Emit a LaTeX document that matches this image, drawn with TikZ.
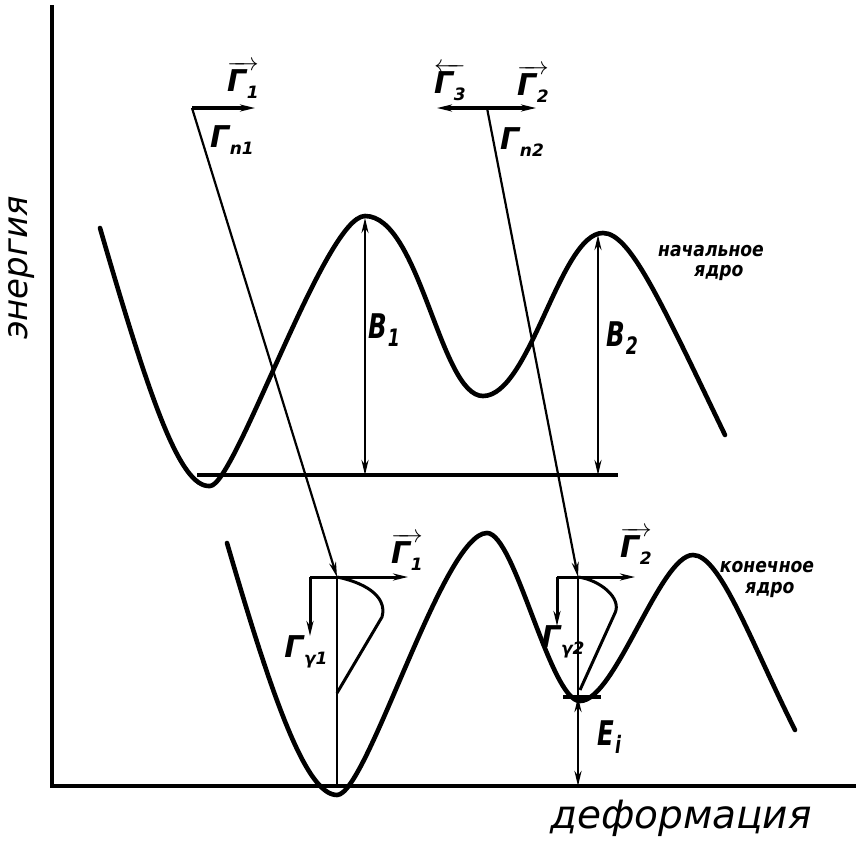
\documentclass[tikz,border=0pt]{standalone}
\usepackage{fontspec}
\setmainfont{DejaVu Sans}
\usetikzlibrary{arrows.meta}
\newcommand{\Gs}[1]{Γ\kern0.02em\raisebox{-0.45ex}{\fontsize{17}{17}\selectfont #1}}
\newcommand{\Bs}[2]{\scalebox{0.72}[1]{#1\kern0.05em\raisebox{-0.4ex}{\fontsize{24}{24}\selectfont #2}}}
\newcommand{\nw}[1]{\scalebox{0.86}[1]{#1}}
\begin{document}
\begin{tikzpicture}[x=1pt,y=-1pt,
  curve/.style={line width=4.6pt, line cap=round, line join=round},
  axisline/.style={line width=4pt},
  thin/.style={line width=2.2pt},
  tip/.style={-{Stealth[length=15pt,width=7pt]}},
  dtip/.style={{Stealth[length=15pt,width=7pt]}-{Stealth[length=15pt,width=7pt]}},
  lab/.style={font=\fontsize{30}{30}\selectfont\bfseries\itshape, inner sep=0pt},
  blab/.style={font=\fontsize{34}{34}\selectfont\bfseries\itshape, inner sep=0pt},
  word/.style={font=\fontsize{20}{20}\selectfont\bfseries\itshape, inner sep=0pt},
  axlab/.style={font=\fontsize{34}{34}\selectfont\itshape, inner sep=0pt}]
\useasboundingbox (0,0) rectangle (860,847);
\fill[white] (0,0) rectangle (860,847);
% axes
\coordinate (O) at (52,786);
\coordinate (ytop) at (52,5);
\coordinate (xend) at (856,786);
\draw[axisline] (ytop) -- (O) -- (xend);
\node[axlab, rotate=90] (en) at (22,268) {энергия};
\node[axlab, font=\fontsize{39}{39}\selectfont\itshape] (def) at (681,818) {деформация};
% upper curve
\draw[curve] (100,228) .. controls (150,400) and (180,488) .. (210,486)
  .. controls (235,486) and (325,216) .. (365,216)
  .. controls (420,216) and (440,396) .. (483,396)
  .. controls (530,396) and (560,233) .. (603,233)
  .. controls (630,233) and (660,300) .. (725,435);
\coordinate (b0) at (197,475);
\coordinate (b1) at (618,475);
\draw[line width=3.4pt] (b0) -- (b1);
\coordinate (B1t) at (365,218);
\coordinate (B1b) at (365,475);
\coordinate (B2t) at (598,235);
\coordinate (B2b) at (598,475);
\draw[thin, dtip] (B1t) -- (B1b);
\draw[thin, dtip] (B2t) -- (B2b);
\node[blab] (B1) at (384,330) {\Bs{B}{1}};
\node[blab] (B2) at (622,338) {\Bs{B}{2}};
\node[word] (w1a) at (711,251) {\nw{начальное}};
\node[word] (w1b) at (719,273) {\nw{ядро}};
% lower curve
\draw[curve] (227,543) .. controls (270,690) and (305,795) .. (337,795)
  .. controls (367,795) and (443,533) .. (487,533)
  .. controls (515,533) and (550,701) .. (580,701)
  .. controls (615,701) and (660,555) .. (693,555)
  .. controls (720,555) and (750,640) .. (795,730);
\node[word] (w2a) at (767,567) {\nw{конечное}};
\node[word] (w2b) at (770,590) {\nw{ядро}};
% top left
\coordinate (g1) at (192,108);
\coordinate (g1r) at (255,108);
\coordinate (t1) at (337,577);
\draw[line width=3.6pt, tip] (g1) -- (g1r);
\draw[thin, tip] (g1) -- (t1);
\node[lab] (G1top) at (243,80) {$\overrightarrow{\hbox{\Gs{1}}}$};
\node[lab] (Gn1) at (232,140) {\Gs{n1}};
% top right
\coordinate (g2l) at (437,108);
\coordinate (g2r) at (536,108);
\coordinate (g2) at (487,108);
\coordinate (t2) at (578,577);
\draw[line width=3.6pt, dtip] (g2l) -- (g2r);
\draw[thin, tip] (g2) -- (t2);
\node[lab] (G3top) at (450,82) {$\overleftarrow{\hbox{\Gs{3}}}$};
\node[lab] (G2top) at (533,84) {$\overrightarrow{\hbox{\Gs{2}}}$};
\node[lab] (Gn2) at (522,142) {\Gs{n2}};
% lower left level
\coordinate (c1) at (310,577);
\coordinate (c1d) at (310,636);
\coordinate (c1r) at (408,577);
\coordinate (v1b) at (337,786);
\draw[line width=3pt, tip] (c1) -- (c1d);
\draw[line width=3pt, tip] (c1) -- (c1r);
\draw[thin] (t1) -- (v1b);
\draw[line width=3pt, line join=round] (t1) .. controls (362,582) and (388,595) .. (382,617) -- (337,693);
\node[lab] (G1lo) at (407,552) {$\overrightarrow{\hbox{\Gs{1}}}$};
\node[lab] (Gg1) at (306,652) {\Gs{γ1}};
% lower right level
\coordinate (c2) at (557,577);
\coordinate (c2d) at (557,626);
\coordinate (c2r) at (635,577);
\coordinate (v2b) at (578,697);
\coordinate (Eb) at (578,786);
\draw[line width=3pt, tip] (c2) -- (c2d);
\draw[line width=3pt, tip] (c2) -- (c2r);
\draw[thin] (t2) -- (v2b);
\draw[line width=3pt, line join=round] (t2) .. controls (600,580) and (622,598) .. (615,613) -- (580,690);
\coordinate (f0) at (563,697);
\coordinate (f1) at (601,697);
\draw[line width=3.4pt] (f0) -- (f1);
\draw[line width=2.8pt, dtip] (v2b) -- (Eb);
\node[lab] (G2lo) at (636,546) {$\overrightarrow{\hbox{\Gs{2}}}$};
\node[lab] (Gg2) at (563,642) {\Gs{γ2}};
\node[blab] (Ei) at (609,737) {\Bs{E}{i}};
\end{tikzpicture}
\end{document}
